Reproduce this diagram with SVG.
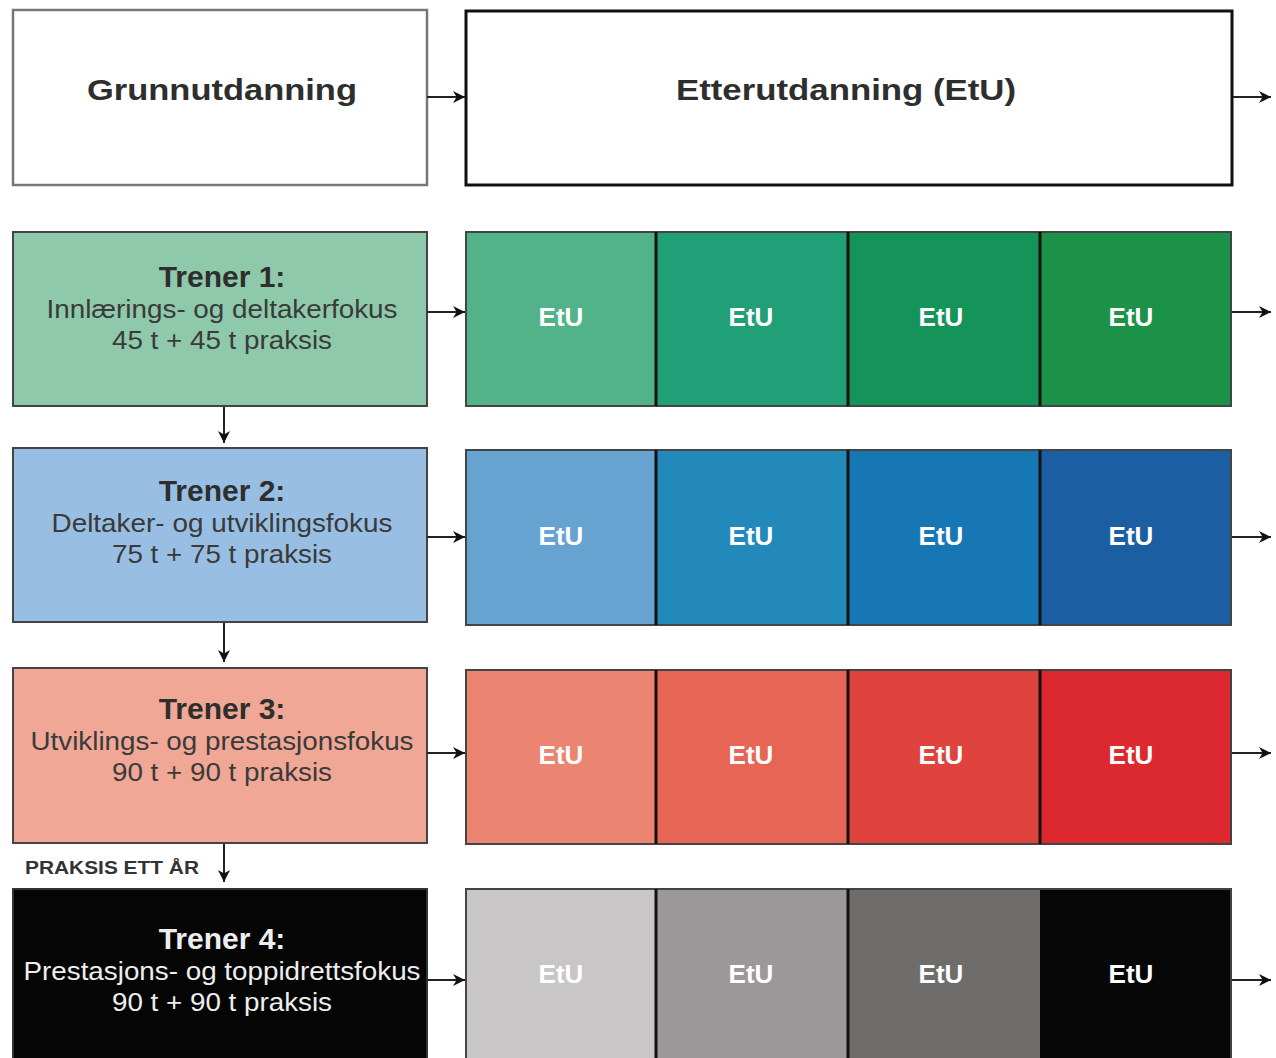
<svg xmlns="http://www.w3.org/2000/svg" width="1276" height="1058" viewBox="0 0 1276 1058">
<style>
.bx{stroke:#444;stroke-width:2}
.title{font-family:"Liberation Sans",Arial,sans-serif;font-weight:bold;font-size:30px;fill:#2e2e2e;text-anchor:middle}
.sub{font-family:"Liberation Sans",Arial,sans-serif;font-size:26px;fill:#3a3a3a;text-anchor:middle}
.etu{font-family:"Liberation Sans",Arial,sans-serif;font-weight:bold;font-size:26px;fill:#ffffff;text-anchor:middle}
.div{stroke:#111;stroke-width:3}
.con{stroke:#222;stroke-width:2;fill:none;marker-end:url(#ah)}
</style>
<defs>
<marker id="ah" viewBox="0 0 10 10" refX="10" refY="5" markerWidth="6" markerHeight="6" orient="auto" markerUnits="strokeWidth">
<path d="M0,0 L10,5 L0,10 L3,5 Z" fill="#111"/>
</marker>
</defs>
<rect width="1276" height="1058" fill="#ffffff"/>

<g id="grunnutdanning">
<rect x="13" y="10" width="414" height="175" fill="#fff" stroke="#777" stroke-width="2.5"/>
<text class="title" x="222" y="100" font-size="33" textLength="270" lengthAdjust="spacingAndGlyphs">Grunnutdanning</text>
</g>
<g id="etterutdanning">
<rect x="466" y="11" width="766" height="174" fill="#fff" stroke="#111" stroke-width="3"/>
<text class="title" x="846" y="100" font-size="32" textLength="340" lengthAdjust="spacingAndGlyphs">Etterutdanning (EtU)</text>
</g>

<g id="trener1">
<rect class="bx" x="13" y="232" width="414" height="174" fill="#8fc9ab"/>
<text class="title" x="222" y="287">Trener 1:</text>
<text class="sub" x="222" y="318" textLength="351" lengthAdjust="spacingAndGlyphs">Innlærings- og deltakerfokus</text>
<text class="sub" x="222" y="349" textLength="220" lengthAdjust="spacingAndGlyphs">45 t + 45 t praksis</text>
</g>
<g id="etu-row1">
<rect x="466" y="232" width="190" height="174" fill="#52b38a"/>
<rect x="656" y="232" width="192" height="174" fill="#21a077"/>
<rect x="848" y="232" width="192" height="174" fill="#149458"/>
<rect x="1040" y="232" width="191" height="174" fill="#1b9248"/>
<rect x="466" y="232" width="765" height="174" fill="none" stroke="#444" stroke-width="2"/>
<line class="div" x1="656" y1="232" x2="656" y2="406"/>
<line class="div" x1="848" y1="232" x2="848" y2="406"/>
<line class="div" x1="1040" y1="232" x2="1040" y2="406"/>
<text class="etu" x="561" y="326">EtU</text>
<text class="etu" x="751" y="326">EtU</text>
<text class="etu" x="941" y="326">EtU</text>
<text class="etu" x="1131" y="326">EtU</text>
</g>

<g id="trener2">
<rect class="bx" x="13" y="448" width="414" height="174" fill="#98bfe3"/>
<text class="title" x="222" y="501">Trener 2:</text>
<text class="sub" x="222" y="532" textLength="341" lengthAdjust="spacingAndGlyphs">Deltaker- og utviklingsfokus</text>
<text class="sub" x="222" y="563" textLength="220" lengthAdjust="spacingAndGlyphs">75 t + 75 t praksis</text>
</g>
<g id="etu-row2">
<rect x="466" y="450" width="190" height="175" fill="#67a3d0"/>
<rect x="656" y="450" width="192" height="175" fill="#2389bb"/>
<rect x="848" y="450" width="192" height="175" fill="#1777b5"/>
<rect x="1040" y="450" width="191" height="175" fill="#1b5fa2"/>
<rect x="466" y="450" width="765" height="175" fill="none" stroke="#444" stroke-width="2"/>
<line class="div" x1="656" y1="450" x2="656" y2="625"/>
<line class="div" x1="848" y1="450" x2="848" y2="625"/>
<line class="div" x1="1040" y1="450" x2="1040" y2="625"/>
<text class="etu" x="561" y="545">EtU</text>
<text class="etu" x="751" y="545">EtU</text>
<text class="etu" x="941" y="545">EtU</text>
<text class="etu" x="1131" y="545">EtU</text>
</g>

<g id="trener3">
<rect class="bx" x="13" y="668" width="414" height="175" fill="#f0a796"/>
<text class="title" x="222" y="719">Trener 3:</text>
<text class="sub" x="222" y="750" textLength="383" lengthAdjust="spacingAndGlyphs">Utviklings- og prestasjonsfokus</text>
<text class="sub" x="222" y="781" textLength="220" lengthAdjust="spacingAndGlyphs">90 t + 90 t praksis</text>
</g>
<g id="etu-row3">
<rect x="466" y="670" width="190" height="174" fill="#ec8472"/>
<rect x="656" y="670" width="192" height="174" fill="#e66554"/>
<rect x="848" y="670" width="192" height="174" fill="#e0423e"/>
<rect x="1040" y="670" width="191" height="174" fill="#dc292f"/>
<rect x="466" y="670" width="765" height="174" fill="none" stroke="#444" stroke-width="2"/>
<line class="div" x1="656" y1="670" x2="656" y2="844"/>
<line class="div" x1="848" y1="670" x2="848" y2="844"/>
<line class="div" x1="1040" y1="670" x2="1040" y2="844"/>
<text class="etu" x="561" y="764">EtU</text>
<text class="etu" x="751" y="764">EtU</text>
<text class="etu" x="941" y="764">EtU</text>
<text class="etu" x="1131" y="764">EtU</text>
</g>

<text id="praksis" x="25" y="874" font-family="Liberation Sans, Arial, sans-serif" font-weight="bold" font-size="19" fill="#333" textLength="174" lengthAdjust="spacingAndGlyphs">PRAKSIS ETT ÅR</text>

<g id="trener4">
<rect x="13" y="889" width="414" height="175" fill="#050505" stroke="#333" stroke-width="2"/>
<text class="title" x="222" y="949" fill="#eeeeee" style="fill:#eeeeee">Trener 4:</text>
<text class="sub" x="222" y="980" style="fill:#eeeeee" textLength="397" lengthAdjust="spacingAndGlyphs">Prestasjons- og toppidrettsfokus</text>
<text class="sub" x="222" y="1011" style="fill:#eeeeee" textLength="220" lengthAdjust="spacingAndGlyphs">90 t + 90 t praksis</text>
</g>
<g id="etu-row4">
<rect x="466" y="889" width="190" height="175" fill="#c8c6c6"/>
<rect x="656" y="889" width="192" height="175" fill="#9c989a"/>
<rect x="848" y="889" width="192" height="175" fill="#6f6c6c"/>
<rect x="1040" y="889" width="191" height="175" fill="#070707"/>
<rect x="466" y="889" width="765" height="175" fill="none" stroke="#444" stroke-width="2"/>
<line class="div" x1="656" y1="889" x2="656" y2="1058"/>
<line class="div" x1="848" y1="889" x2="848" y2="1058"/>
<text class="etu" x="561" y="983">EtU</text>
<text class="etu" x="751" y="983">EtU</text>
<text class="etu" x="941" y="983">EtU</text>
<text class="etu" x="1131" y="983">EtU</text>
</g>

<g id="connectors">
<line class="con" x1="427" y1="97" x2="465" y2="97"/>
<line class="con" x1="1233" y1="97" x2="1271" y2="97"/>
<line class="con" x1="427" y1="312" x2="465" y2="312"/>
<line class="con" x1="1232" y1="312" x2="1271" y2="312"/>
<line class="con" x1="427" y1="537" x2="465" y2="537"/>
<line class="con" x1="1232" y1="537" x2="1271" y2="537"/>
<line class="con" x1="427" y1="753" x2="465" y2="753"/>
<line class="con" x1="1232" y1="753" x2="1271" y2="753"/>
<line class="con" x1="427" y1="980" x2="465" y2="980"/>
<line class="con" x1="1232" y1="980" x2="1271" y2="980"/>
<line class="con" x1="224" y1="407" x2="224" y2="443"/>
<line class="con" x1="224" y1="623" x2="224" y2="662"/>
<line class="con" x1="224" y1="844" x2="224" y2="882"/>
</g>
</svg>
